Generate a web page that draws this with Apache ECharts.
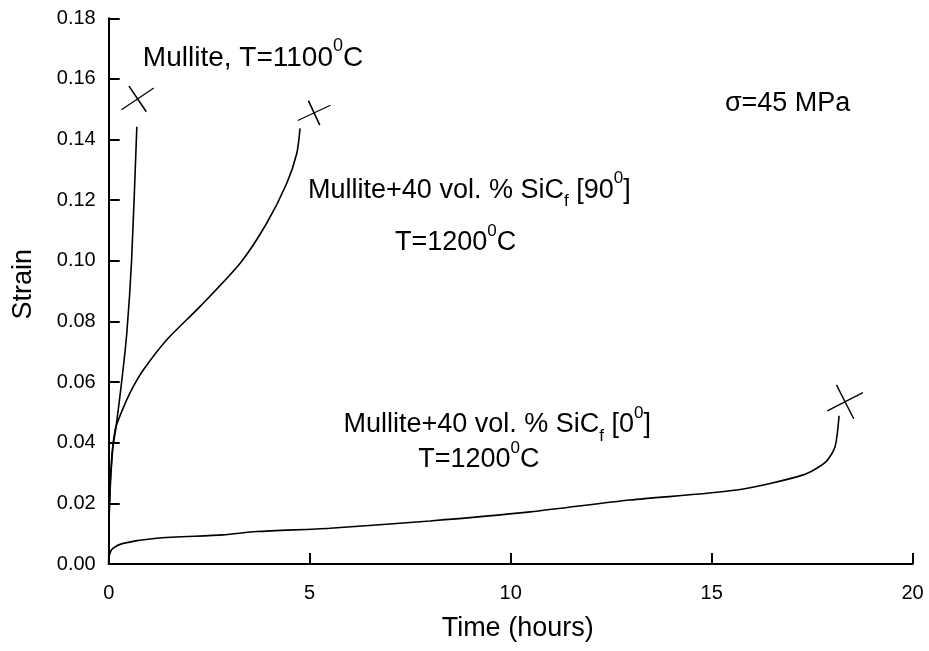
<!DOCTYPE html>
<html>
<head>
<meta charset="utf-8">
<script src="https://cdn.jsdelivr.net/npm/echarts@6/dist/echarts.min.js"></script>
<style>
  html, body { margin: 0; padding: 0; background: #fff; }
  #chart { width: 929px; height: 651px; }
</style>
</head>
<body>
<div id="chart"></div>
<script>
// creep curves: time (hours) / strain
var timeMullite = [0, 0.02, 0.1, 0.18, 0.32, 0.45, 0.57, 0.70];
var strainMullite = [0, 0.02, 0.038, 0.045, 0.0598, 0.0761, 0.1003, 0.1442];

var time90 = [0, 0.02, 0.08, 0.16, 0.24, 0.41, 0.61, 0.86, 1.44, 2.27, 3.27, 3.93, 4.43, 4.68, 4.76];
var strain90 = [0, 0.02, 0.036, 0.0442, 0.0475, 0.0530, 0.0585, 0.0640, 0.0739, 0.0849, 0.0992, 0.1124, 0.1256, 0.1355, 0.1437];

var time0 = [0, 0.03, 0.11, 0.36, 1.19, 2.85, 3.68, 5.50, 7.99, 10.49, 12.97, 15.62, 17.28, 17.84, 18.07, 18.17];
var strain0 = [0.001, 0.0035, 0.0052, 0.0068, 0.0085, 0.0096, 0.0107, 0.0118, 0.0142, 0.0172, 0.0211, 0.0244, 0.0294, 0.0337, 0.0387, 0.0489];

// failure marks (x)
var failTime = [0.72, 5.11, 18.32];
var failStrain = [0.1534, 0.1488, 0.0535];

// annotations
var noteText = [
  '{b|Mullite, T=1100}{sb|0}{b|C}',
  '{a|σ=45 MPa}',
  '{a|Mullite+40 vol. % SiC}{sub|f}{a| [90}{sup|0}{a|]}',
  '{a|T=1200}{sup|0}{a|C}',
  '{a|Mullite+40 vol. % SiC}{sub|f}{a| [0}{sup|0}{a|]}',
  '{a|T=1200}{sup|0}{a|C}'
];
var noteTime = [0.85, 15.33, 4.96, 7.12, 5.84, 7.70];
var noteStrain = [0.1669, 0.152, 0.1233, 0.1059, 0.046, 0.0345];

var xTicks = [0, 5, 10, 15, 20];

function pairs(xs, ys) {
  var res = [];
  for (var i = 0; i < xs.length; i++) {
    res.push([xs[i], ys[i]]);
  }
  return res;
}

var font = 'Liberation Sans, Arial, sans-serif';

// cross shape: rotation and arm sizes per mark
var crossRotate = [34, 25, 27];
var crossSize = [[39, 31], [36, 27], [40, 38]];

var crossData = [];
for (var i = 0; i < failTime.length; i++) {
  crossData.push({
    value: [failTime[i], failStrain[i]],
    symbolRotate: crossRotate[i],
    symbolSize: crossSize[i]
  });
}

var noteData = [];
for (var j = 0; j < noteText.length; j++) {
  noteData.push({ value: [noteTime[j], noteStrain[j]], txt: noteText[j] });
}

var lineStyle = { color: '#000', width: 1.6 };

var option = {
  backgroundColor: '#fff',
  animation: false,
  grid: { left: 108.7, right: 16.4, top: 18.3, bottom: 87 },
  xAxis: {
    type: 'value',
    min: 0,
    max: 20,
    interval: 5,
    name: 'Time (hours)',
    nameLocation: 'middle',
    nameGap: 51,
    nameTextStyle: { color: '#000', fontSize: 27, fontFamily: font, padding: [0, 0, 0, 14] },
    axisLine: { lineStyle: { color: '#000', width: 2 } },
    axisTick: { inside: true, length: 11, lineStyle: { color: '#000', width: 2 } },
    axisLabel: {
      color: '#000', fontSize: 20, fontFamily: font, margin: 19,
      formatter: function (v) { return xTicks.indexOf(v) >= 0 ? String(v) : ''; }
    },
    splitLine: { show: false }
  },
  yAxis: {
    type: 'value',
    min: 0,
    max: 0.18,
    interval: 0.02,
    name: 'Strain',
    nameLocation: 'middle',
    nameGap: 72,
    nameTextStyle: { color: '#000', fontSize: 27, fontFamily: font, padding: [0, 0, 0, 14] },
    axisLine: { lineStyle: { color: '#000', width: 2 } },
    axisTick: { inside: true, length: 11, lineStyle: { color: '#000', width: 2 } },
    axisLabel: {
      color: '#000', fontSize: 20, fontFamily: font, margin: 13,
      formatter: function (v) { return v.toFixed(2); }
    },
    splitLine: { show: false }
  },
  series: [{
    name: 'Mullite 1100',
    type: 'line',
    data: pairs(timeMullite, strainMullite),
    showSymbol: false,
    smooth: 0.25,
    lineStyle: lineStyle,
    silent: true
  }, {
    name: 'SiC 90',
    type: 'line',
    data: pairs(time90, strain90),
    showSymbol: false,
    smooth: 0.25,
    lineStyle: lineStyle,
    silent: true
  }, {
    name: 'SiC 0',
    type: 'line',
    data: pairs(time0, strain0),
    showSymbol: false,
    smooth: 0.25,
    lineStyle: lineStyle,
    silent: true
  }, {
    name: 'failure',
    type: 'scatter',
    symbol: 'path://M0,50L100,50M50,0L50,100',
    itemStyle: { color: 'none', borderColor: '#000', borderWidth: 1.4, opacity: 1 },
    data: crossData,
    silent: true
  }, {
    name: 'notes',
    type: 'scatter',
    symbolSize: 0,
    data: noteData,
    silent: true,
    itemStyle: { opacity: 1 },
    label: {
      show: true,
      position: 'right',
      distance: 0,
      color: '#000',
      fontFamily: font,
      formatter: function (p) { return p.data.txt; },
      rich: {
        a: { fontSize: 27, lineHeight: 40, fontFamily: font, color: '#000' },
        b: { fontSize: 28, lineHeight: 42, fontFamily: font, color: '#000' },
        sup: { fontSize: 17, lineHeight: 17, verticalAlign: 'top', fontFamily: font, color: '#000' },
        sb: { fontSize: 18, lineHeight: 18, verticalAlign: 'top', fontFamily: font, color: '#000' },
        sub: { fontSize: 17, lineHeight: 11, verticalAlign: 'bottom', fontFamily: font, color: '#000' }
      }
    }
  }]
};

var myChart = echarts.init(document.getElementById('chart'));
myChart.setOption(option);
</script>
</body>
</html>
